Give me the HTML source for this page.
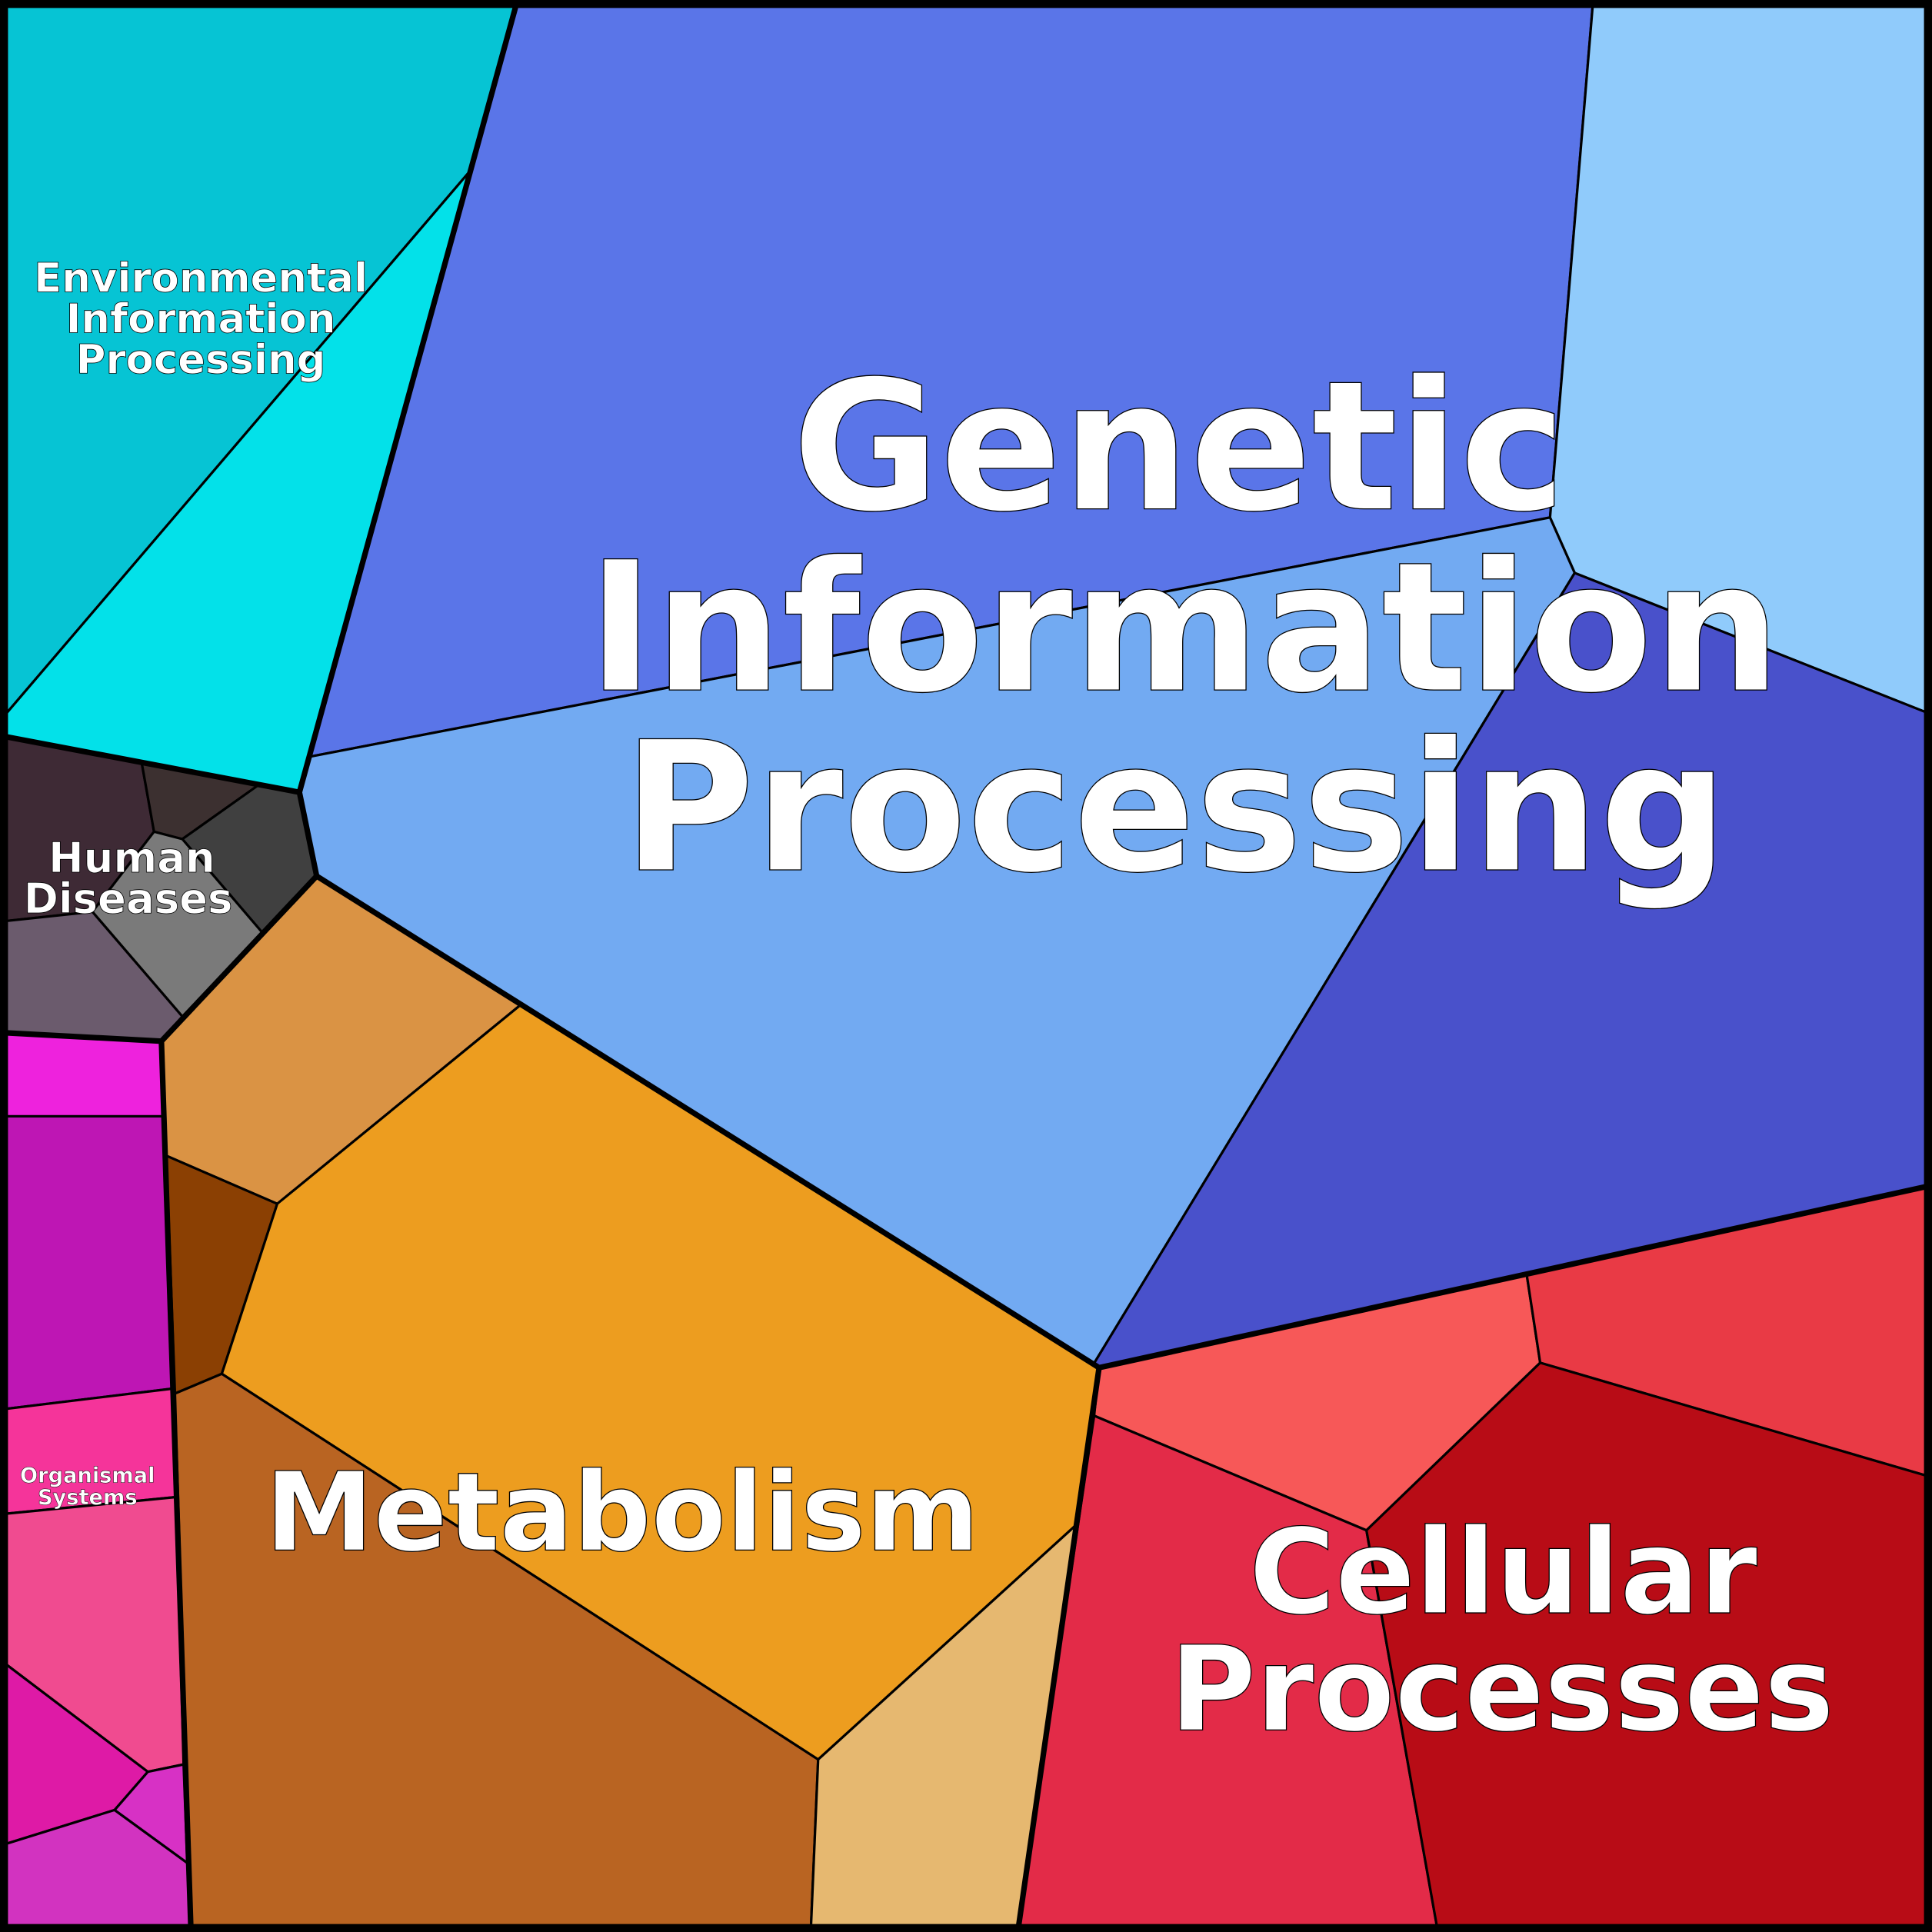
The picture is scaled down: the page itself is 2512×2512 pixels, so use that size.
<!DOCTYPE html>
<html><head><meta charset="utf-8"><style>
html,body{margin:0;padding:0;background:#fff}
svg{display:block}
text{font-family:"DejaVu Sans","Liberation Sans",sans-serif;font-weight:bold;fill:#fff;stroke:#000;text-anchor:middle}
</style></head><body>
<svg width="2512" height="2512" viewBox="0 0 1568 1568" xmlns="http://www.w3.org/2000/svg">
<g stroke="#000" stroke-width="2" stroke-linejoin="round">
<polygon fill="#06C4D4" points="0,0 420,0 383,137 0,585"/>
<polygon fill="#03E1E9" points="383,137 243,643 0,597 0,585"/>
<polygon fill="#5A75E8" points="420,0 1293,0 1258,420 252,614 243,643"/>
<polygon fill="#90CBFB" points="1293,0 1568,0 1568,580 1278,465 1258,420"/>
<polygon fill="#72AAF2" points="252,614 1258,420 1278,465 887,1108 257,711 243,643"/>
<polygon fill="#4951CB" points="1278,465 1568,580 1568,962 892,1110 887,1108"/>
<polygon fill="#3E2A35" points="0,597 115,619 125,675 75,740 0,748"/>
<polygon fill="#3C3030" points="115,619 210,637 148,681 125,675"/>
<polygon fill="#404040" points="210,637 243,643 257,711 213,757 148,681"/>
<polygon fill="#7A7A7A" points="125,675 148,681 213,757 148,825 75,740"/>
<polygon fill="#6B5B6D" points="0,748 75,740 148,825 131,845 0,838"/>
<polygon fill="#DA9344" points="257,711 422,816 225,977 135,938 131,845"/>
<polygon fill="#8B4003" points="135,938 225,977 180,1115 142,1131"/>
<polygon fill="#ED9D1F" points="422,816 892,1110 873,1238 664,1428 180,1115 225,977"/>
<polygon fill="#B96422" points="142,1131 180,1115 664,1428 658,1568 155,1568"/>
<polygon fill="#E6B870" points="664,1428 873,1238 826,1568 658,1568"/>
<polygon fill="#EE22DD" points="0,838 131,845 133,906 0,906"/>
<polygon fill="#BE16B4" points="0,906 133,906 140,1127 0,1144"/>
<polygon fill="#F5349A" points="0,1144 140,1127 143,1215 0,1229"/>
<polygon fill="#F04B90" points="0,1229 143,1215 149,1432 120,1438 0,1347"/>
<polygon fill="#DE1AA6" points="0,1347 120,1438 93,1469 0,1498"/>
<polygon fill="#D731C5" points="120,1438 149,1432 152,1512 93,1469"/>
<polygon fill="#D233C0" points="0,1498 93,1469 152,1512 155,1568 0,1568"/>
<polygon fill="#F75858" points="892,1110 1239,1034 1250,1106 1109,1242 888,1149"/>
<polygon fill="#E93A45" points="1239,1034 1568,962 1568,1199 1250,1106"/>
<polygon fill="#E32B48" points="888,1149 1109,1242 1167,1568 826,1568"/>
<polygon fill="#B80C16" points="1109,1242 1250,1106 1568,1199 1568,1568 1167,1568"/>
</g>
<g fill="none" stroke="#000" stroke-width="4.5" stroke-linejoin="round">
<polyline points="420,0 243,643 0,597"/>
<polyline points="243,643 257,711 892,1110 1568,962"/>
<polyline points="257,711 131,845 0,838"/>
<polyline points="131,845 155,1568"/>
<polyline points="892,1110 826,1568"/>
<rect x="3" y="3" width="1562" height="1562" stroke-width="7"/>
</g>
<g stroke-width="0.8">
<text font-size="146" x="957" y="413">Genetic</text>
<text font-size="146" x="961" y="560">Information</text>
<text font-size="146" x="954" y="706">Processing</text>
<text font-size="88.5" x="505" y="1258">Metabolism</text>
<text font-size="95.5" x="1220" y="1309">Cellular</text>
<text font-size="95.5" x="1219" y="1404">Processes</text>
</g>
<g stroke-width="0.5">
<text font-size="33" x="163" y="237">Environmental</text>
<text font-size="33" x="163" y="270">Information</text>
<text font-size="33" x="163" y="303">Processing</text>
<text font-size="34" x="107" y="708">Human</text>
<text font-size="34" x="104" y="741">Diseases</text>
<text font-size="17" x="71" y="1203" stroke-width="0.3">Organismal</text>
<text font-size="17" x="71" y="1221" stroke-width="0.3">Systems</text>
</g>
</svg>
</body></html>
